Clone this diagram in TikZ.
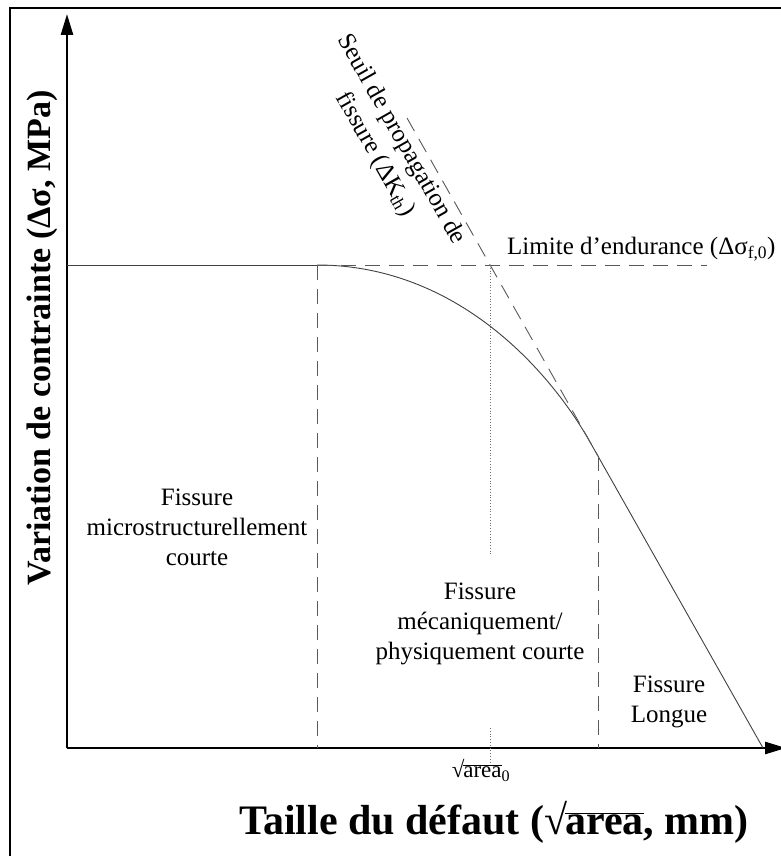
\documentclass[tikz,border=0pt]{standalone}
\usepackage{fontspec}
\setmainfont{Liberation Serif}
\usetikzlibrary{arrows.meta,positioning,calc}
\newcommand\racine[1]{√\kern-0.05em$\overline{\mbox{#1}}$}

\begin{document}
\begin{tikzpicture}[x=1pt,y=-1pt,every node/.style={font=\fontsize{25}{30}\selectfont,align=center,inner sep=0pt},
  axis/.style={line width=2.6pt,-{Triangle[length=21pt,width=12pt]}},
  curve/.style={line width=0.9pt,black!75},
  guide/.style={line width=0.9pt,black!65,dash pattern=on 15pt off 9pt},
  marker/.style={line width=0.8pt,black!55,dotted}]
\useasboundingbox (0,0) rectangle (781,856);
\draw[line width=2pt] (10,900) -- (10,8) -- (820,8);
% axes
\coordinate (origin) at (67,748);
\coordinate (ytop) at (67,14);
\coordinate (xend) at (786,748);
\draw[axis] (origin) -- (ytop);
\draw[axis] (origin) -- (xend);
% endurance limit and threshold
\coordinate (e0) at (67,265);
\coordinate (knee) at (317,265);
\coordinate (a0) at (490,265);
\coordinate (eend) at (707,265);
\coordinate (s0) at (407,118);
\coordinate (tang) at (590,442);
\coordinate (long) at (598,456);
\coordinate (xcut) at (763,748);
\draw[curve] (e0) -- (knee);
\draw[curve] (knee) .. controls (457,265) and (550,371) .. (tang) -- (xcut);
\draw[guide] (knee) -- (eend);
\draw[guide] (s0) -- (long);
\draw[guide] (knee) -- (knee |- origin);
\draw[guide] (long) -- (long |- origin);
\draw[marker] (a0) -- (490,555);
\draw[marker] (490,728) -- (490,762);
% labels
\node (seuil) at (388,147) [rotate=-60.5] {Seuil de propagation de\\fissure (ΔK\textsubscript{th})};
\node[anchor=west] (endu) at (507,249) {Limite d’endurance (Δσ\textsubscript{f,0})};
\node (micro) at (197,527) {Fissure\\microstructurellement\\courte};
\node (meca) at (480,624) {Fissure\\mécaniquement/\\physiquement courte};
\node (longue) at (669,702) {Fissure\\Longue};
\node[anchor=north,font=\fontsize{23}{28}\selectfont] (area0) at (481,759) {\racine{area}\textsubscript{0}};
\node[font=\fontsize{42}{48}\bfseries] (xlab) at (494,822) {Taille du défaut (\racine{area}, mm)};
\node[font=\fontsize{34}{40}\bfseries,rotate=90] (ylab) at (42,338) {Variation de contrainte (Δσ, MPa)};
\end{tikzpicture}
\end{document}
